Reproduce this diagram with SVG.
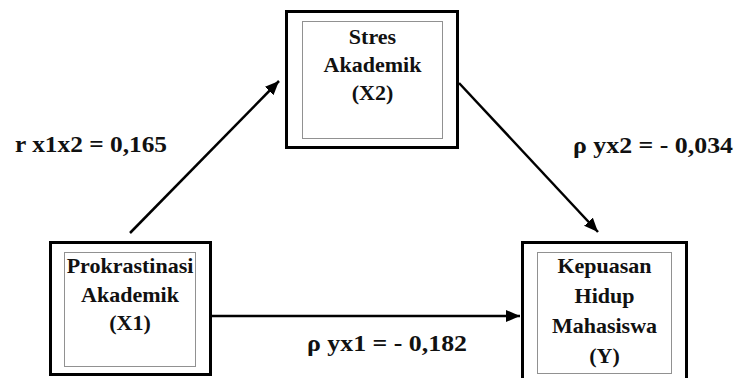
<svg xmlns="http://www.w3.org/2000/svg" width="738" height="378" viewBox="0 0 738 378">
<defs>
<style>
.outer{fill:#fff;stroke:#000;stroke-width:3}
.inner{fill:none;stroke:#222;stroke-width:1;stroke-dasharray:1,1}
.nt{font-family:'Liberation Serif','Times New Roman','DejaVu Serif',serif;font-weight:700;font-size:22px;text-anchor:middle;fill:#111}
.lb{font-family:'Liberation Serif','Times New Roman','DejaVu Serif',serif;font-weight:700;font-size:24px;fill:#111}
.conn{stroke:#000;stroke-width:2.5;fill:none;marker-end:url(#ah)}
</style>
<marker id="ah" markerUnits="userSpaceOnUse" markerWidth="16" markerHeight="14" refX="14" refY="6" orient="auto">
<path d="M0,0 L14,6 L0,12 Z" fill="#000"/>
</marker>
</defs>
<rect width="738" height="378" fill="#fff"/>
<g id="connectors">
<line class="conn" x1="130" y1="233" x2="279" y2="81"/>
<line class="conn" x1="459" y1="83" x2="598" y2="232"/>
<line class="conn" x1="212" y1="316" x2="520" y2="316"/>
</g>
<g id="node-x2">
<rect class="outer" x="286.5" y="11.5" width="171" height="136"/>
<rect class="inner" x="302.5" y="21.5" width="140" height="117"/>
<text class="nt" x="372.5" y="44">Stres</text>
<text class="nt" x="372.5" y="72">Akademik</text>
<text class="nt" x="372.5" y="100">(X2)</text>
</g>
<g id="node-x1">
<rect class="outer" x="50.5" y="242.5" width="160" height="132"/>
<rect class="inner" x="64.5" y="252.5" width="131" height="114"/>
<text class="nt" x="130" y="273">Prokrastinasi</text>
<text class="nt" x="130" y="302">Akademik</text>
<text class="nt" x="130" y="330">(X1)</text>
</g>
<g id="node-y">
<rect class="outer" x="522.5" y="242.5" width="164" height="150"/>
<rect class="inner" x="537.5" y="252.5" width="134" height="121"/>
<text class="nt" x="604.5" y="273">Kepuasan</text>
<text class="nt" x="604.5" y="303">Hidup</text>
<text class="nt" x="604.5" y="333">Mahasiswa</text>
<text class="nt" x="604.5" y="363">(Y)</text>
</g>
<g id="labels">
<text class="lb" x="15" y="152" textLength="152" lengthAdjust="spacingAndGlyphs">r x1x2 = 0,165</text>
<text class="lb" x="573" y="153" textLength="160" lengthAdjust="spacingAndGlyphs">ρ yx2 = - 0,034</text>
<text class="lb" x="307" y="351" textLength="160" lengthAdjust="spacingAndGlyphs">ρ yx1 = - 0,182</text>
</g>
</svg>
